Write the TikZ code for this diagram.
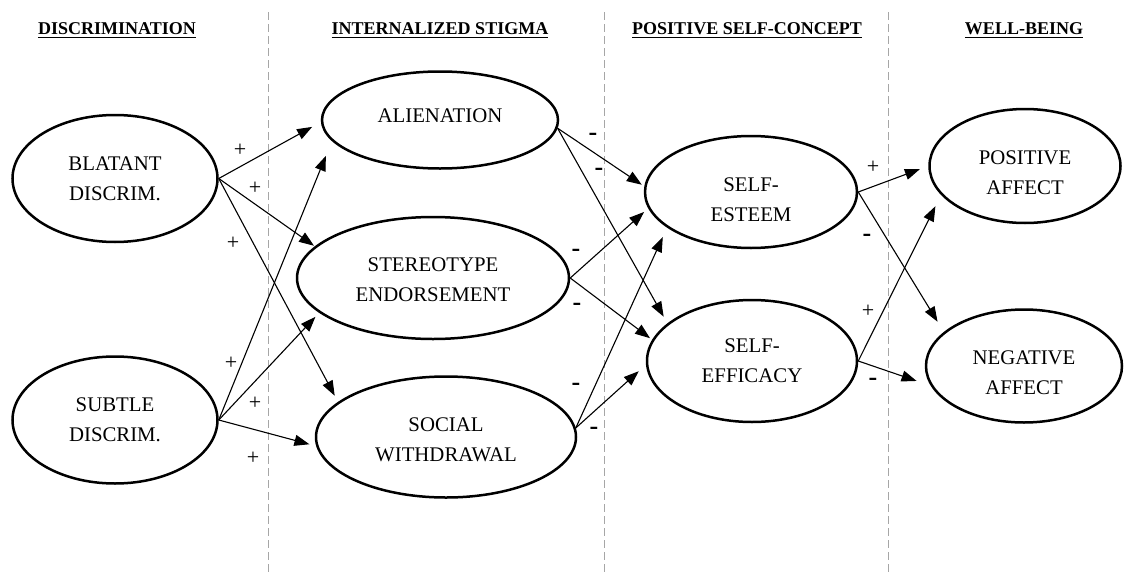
\documentclass[tikz,border=0pt]{standalone}
\usepackage{fontspec}
\setmainfont{Liberation Serif}
\usetikzlibrary{arrows.meta,shapes.geometric}
\begin{document}
\begin{tikzpicture}[x=1pt,y=-1pt,
  lat/.style={ellipse,draw,line width=2.5pt,inner sep=0pt,align=center,font=\fontsize{20.8}{30}\selectfont},
  hdr/.style={inner sep=0pt,font=\bfseries\fontsize{18}{20}\selectfont,anchor=base},
  uline/.style={line width=1.3pt},
  arr/.style={line width=1.1pt,-{Triangle[length=15pt,width=11pt]}},
  sgn/.style={inner sep=0pt,font=\fontsize{22}{22}\selectfont},
  msgn/.style={inner sep=0pt,font=\bfseries\fontsize{26}{26}\selectfont},
  sep/.style={black!35,line width=1pt,dash pattern=on 8pt off 4pt}]
\useasboundingbox (0,0) rectangle (1125,573);

% separators
\draw[sep] (268,12) -- (268,573);
\draw[sep] (604,12) -- (604,573);
\draw[sep] (888,12) -- (888,573);

% headers
\node[hdr] (h1) at (117,34) {DISCRIMINATION};
\node[hdr] (h2) at (440,34) {INTERNALIZED STIGMA};
\node[hdr] (h3) at (747,34) {POSITIVE SELF-CONCEPT};
\node[hdr] (h4) at (1024,34) {WELL-BEING};
\foreach \h in {h1,h2,h3,h4}
  \draw[uline] ([yshift=-3.5pt]\h.base west) -- ([yshift=-3.5pt]\h.base east);

% latent variables
\node[lat,minimum width=205pt,minimum height=127pt] (bl) at (115,178.5) {BLATANT\\DISCRIM.};
\node[lat,minimum width=205pt,minimum height=127pt] (su) at (115,420) {SUBTLE\\DISCRIM.};
\node[lat,minimum width=236pt,minimum height=97pt,text depth=8pt] (al) at (440,120) {ALIENATION};
\node[lat,minimum width=272pt,minimum height=122pt,text height=48pt] (st) at (433,278) {STEREOTYPE\\ENDORSEMENT};
\node[lat,minimum width=260pt,minimum height=121pt,text height=50pt] (sw) at (446,437) {SOCIAL\\WITHDRAWAL};
\node[lat,minimum width=212pt,minimum height=112pt,text height=60pt] (se) at (751,192) {SELF-\\ESTEEM};
\node[lat,minimum width=210pt,minimum height=122pt] (ef) at (752,361) {SELF-\\EFFICACY};
\node[lat,minimum width=191pt,minimum height=114pt,text height=58pt] (pa) at (1025,166) {POSITIVE\\AFFECT};
\node[lat,minimum width=196pt,minimum height=113pt,text height=58pt] (na) at (1024,366) {NEGATIVE\\AFFECT};

% paths
\draw[arr,shorten >=10pt] (bl.east) -- (al.181);
\draw[arr,shorten >=1pt] (bl.east) -- (st.165);
\draw[arr,shorten >=7pt] (bl.east) -- (sw.162.5);
\draw[arr,shorten >=16pt] (su.east) -- (al.191);
\draw[arr,shorten >=5.5pt] (su.east) -- (st.197.5);
\draw[arr,shorten >=7pt] (su.east) -- (sw.184.4);

\draw[arr,shorten >=3pt] (al.-4) -- (se.177);
\draw[arr,shorten >=7.6pt] (al.-4) -- (ef.156.6);
\draw[arr,shorten >=5.5pt] (st.east) -- (se.189.8);
\draw[arr,shorten >=2.6pt] (st.east) -- (ef.168.3);
\draw[arr,shorten >=10.3pt] (sw.4) -- (se.203.6);
\draw[arr,shorten >=9.7pt] (sw.4) -- (ef.182.6);

\draw[arr,shorten >=8.9pt] (se.east) -- (pa.180.7);
\draw[arr,shorten >=12pt] (se.east) -- (na.157.6);
\draw[arr,shorten >=12.6pt] (ef.east) -- (pa.199.3);
\draw[arr,shorten >=15pt] (ef.east) -- (na.192);

% signs
\node[sgn] (p1) at (240,150) {+};
\node[sgn] (p2) at (255,188) {+};
\node[sgn] (p3) at (233,243) {+};
\node[sgn] (p4) at (231,363) {+};
\node[sgn] (p5) at (255,403) {+};
\node[sgn] (p6) at (253,458) {+};

\node[msgn] (m1) at (593,137) {-};
\node[msgn] (m2) at (599,172) {-};
\node[msgn] (m3) at (576,253) {-};
\node[msgn] (m4) at (577,307) {-};
\node[msgn] (m5) at (576,387) {-};
\node[msgn] (m6) at (594,431) {-};

\node[sgn] (p7) at (873,167) {+};
\node[msgn] (m7) at (867,238) {-};
\node[sgn] (p8) at (868,311) {+};
\node[msgn] (m8) at (873,382) {-};
\end{tikzpicture}
\end{document}
